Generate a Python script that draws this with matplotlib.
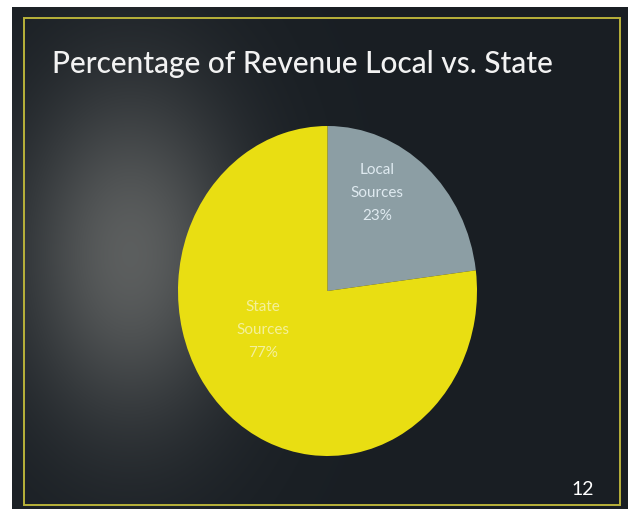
import numpy as np
import matplotlib.pyplot as plt
from matplotlib.patches import Rectangle

# revenue split
sources = ['Local\nSources', 'State\nSources']
shares = [23, 77]
colors = ['#8c9ea4', '#e9de12']
label_colors = ['#dfeaf0', '#f4f09a']
label_pos = [(0.33, 0.60), (-0.43, -0.23)]

title = 'Percentage of Revenue Local vs. State'
page_no = '12'

W, H = 637, 510
fig = plt.figure(figsize=(W / 100, H / 100), dpi=100)
fig.patch.set_facecolor('white')

# slide background in pixel coordinates
bg = fig.add_axes([0, 0, 1, 1])
bg.set_xlim(0, W)
bg.set_ylim(H, 0)
bg.axis('off')

x0, x1, y0, y1 = 12, 628, 8, 510
xx, yy = np.meshgrid(np.arange(x0, x1), np.arange(y0, y1))
glow = np.exp(-(((xx - 130) / 110.0) ** 2 + ((yy - 255) / 170.0) ** 2))
base = np.array([0.10, 0.12, 0.14])
haze = np.array([0.36, 0.37, 0.37])
img = base + glow[..., None] * (haze - base)
bg.imshow(img, extent=(x0, x1, y1, y0), aspect='auto', zorder=0)
bg.add_patch(Rectangle((24, 19), 596, 487, fill=False, edgecolor='#b9b23a', lw=1.4, zorder=1))

bg.text(52, 64, title, color='#f2f2f2', fontsize=21.5, family='Lato',
        fontweight='medium', ha='left', va='center', zorder=2)
bg.text(594, 490, page_no, color='white', fontsize=14, family='Lato',
        ha='right', va='center', zorder=2)

# pie, squashed slightly taller than wide
pie_ax = fig.add_axes([178 / W, (H - 457) / H, 299 / W, 330 / H])
pie_ax.pie(shares, colors=colors, startangle=90, counterclock=False,
           wedgeprops=dict(linewidth=0))
pie_ax.set_aspect('auto')
pie_ax.set_xlim(-1, 1)
pie_ax.set_ylim(-1, 1)
pie_ax.axis('off')

for name, pct, c, (tx, ty) in zip(sources, shares, label_colors, label_pos):
    pie_ax.text(tx, ty, f'{name}\n{pct}%', color=c, fontsize=11,
                family='Lato', ha='center', va='center', linespacing=1.85)

fig.savefig('out.png', dpi=100, facecolor=fig.get_facecolor())
